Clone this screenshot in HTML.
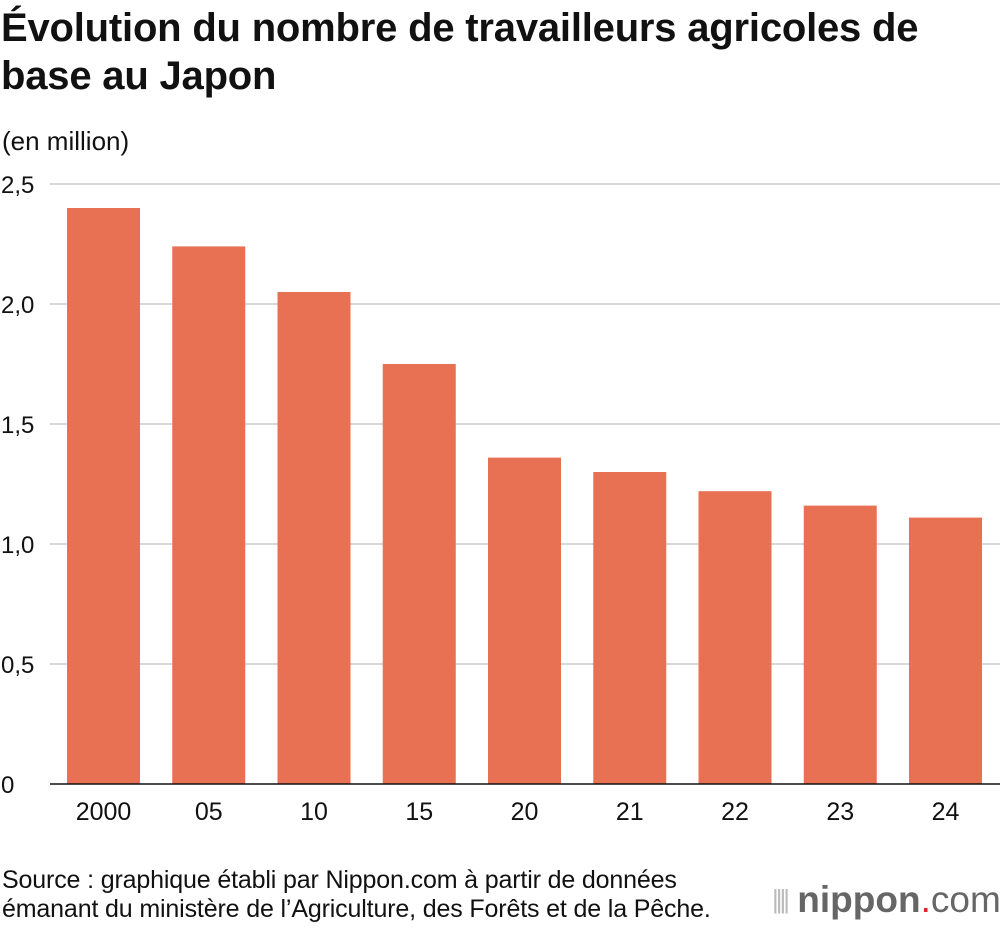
<!DOCTYPE html>
<html><head><meta charset="utf-8"><style>
body{margin:0;width:1000px;height:928px;background:#fff;font-family:"Liberation Sans",sans-serif;overflow:hidden;position:relative}
.t{position:absolute;left:1px;top:4px;font-size:40px;font-weight:bold;line-height:48px;color:#111;letter-spacing:-0.2px;white-space:nowrap}
.u{position:absolute;left:2px;top:126px;font-size:26px;color:#111}
.src{position:absolute;left:2px;top:866px;font-size:25px;line-height:29px;color:#111;white-space:nowrap;letter-spacing:-0.15px}
.logo{position:absolute;left:772px;top:879px;font-size:37px;color:#666;white-space:nowrap}
</style></head><body>
<div class="t">Évolution du nombre de travailleurs agricoles de<br>base au Japon</div>
<div class="u">(en million)</div>
<svg id="c" width="1000" height="860" style="position:absolute;left:0;top:0"></svg>
<div class="src">Source : graphique établi par Nippon.com à partir de données<br>émanant du ministère de l’Agriculture, des Forêts et de la Pêche.</div>
<div class="logo"><span style="font-size:26px;color:#bbb;letter-spacing:-3px;position:relative;top:-4px">||||</span> <b>nippon</b><span style="color:#e0242a">.</span>com</div>
<script>
const categories=["2000","05","10","15","20","21","22","23","24"];
const values=[2.40,2.24,2.05,1.75,1.36,1.30,1.22,1.16,1.11];
const ticks=[0,0.5,1.0,1.5,2.0,2.5];
const tickLabels=["0","0,5","1,0","1,5","2,0","2,5"];
const ns="http://www.w3.org/2000/svg",svg=document.getElementById('c');
const y=v=>784-v*240, x=i=>67+i*105.25, bw=73;
function mk(t,a){const e=document.createElementNS(ns,t);for(const k in a)e.setAttribute(k,a[k]);svg.appendChild(e);return e;}
ticks.forEach((v,i)=>{
 if(v>0){const l=mk('line',{x1:50,x2:1000,y1:y(v),y2:y(v),stroke:'#ccc','stroke-width':1.5});
 
 }
 const t=mk('text',{x:1,y:y(v)+9,'font-size':24,fill:'#111'});t.textContent=tickLabels[i];
 
 
});
values.forEach((v,i)=>{
 const r=mk('rect',{x:x(i),y:y(v),width:bw,height:784-y(v),fill:'#e87053'});
 
 
 const t=mk('text',{x:x(i)+bw/2,y:820,'font-size':25,fill:'#111','text-anchor':'middle'});t.textContent=categories[i];
 
 
});
const b=mk('line',{x1:50,x2:1000,y1:784,y2:784,stroke:'#111','stroke-width':1.5});


</script>
</body></html>
